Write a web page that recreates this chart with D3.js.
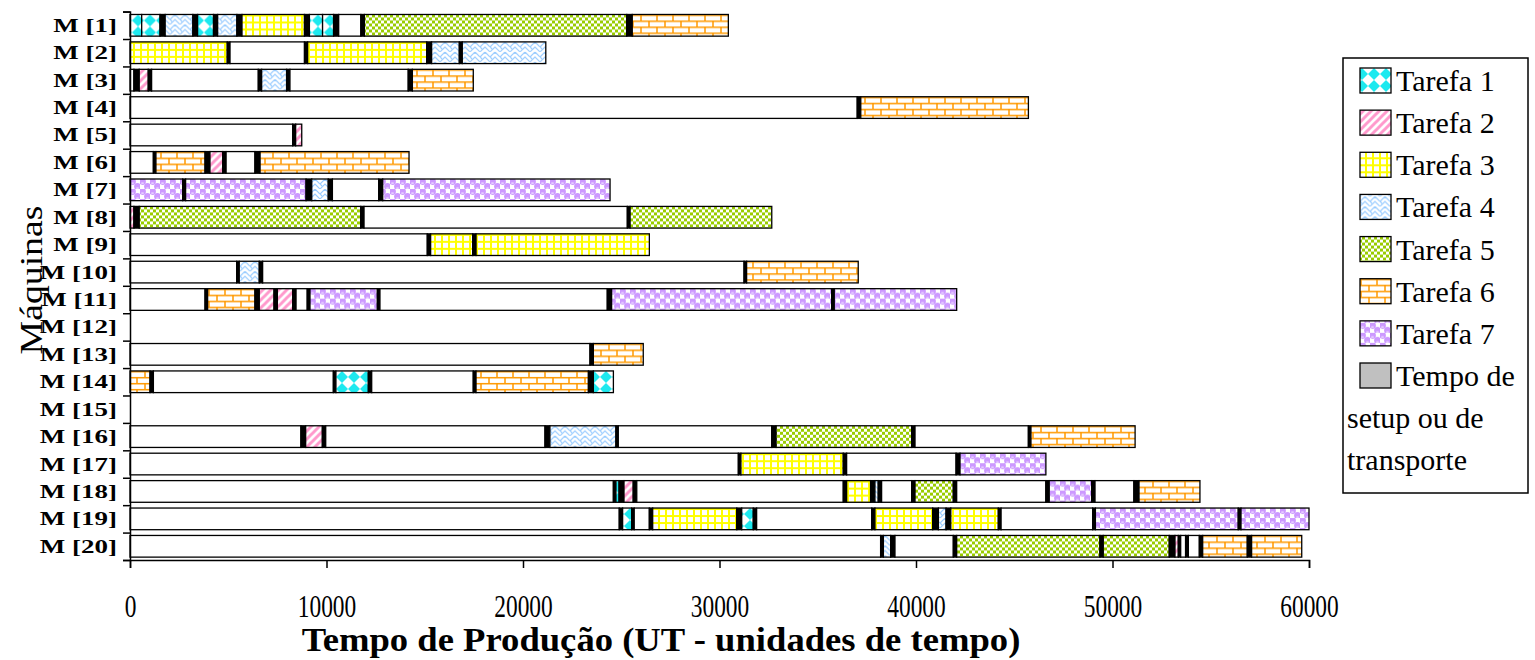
<!DOCTYPE html>
<html>
<head>
<meta charset="utf-8">
<script src="https://cdn.jsdelivr.net/npm/d3@7"></script>
<style>
  body { margin: 0; background: #fff; }
  svg { display: block; font-family: "Liberation Serif", "Times New Roman", serif; }
</style>
</head>
<body>
<svg id="gantt" width="1535" height="660"></svg>
<script>
// machines, tasks and ticks
var machines = d3.range(1, 21).map(function(i) { return "M [" + i + "]"; });
var taskNames = ["Tarefa 1", "Tarefa 2", "Tarefa 3", "Tarefa 4", "Tarefa 5", "Tarefa 6", "Tarefa 7"];
var xTicks = [0, 10000, 20000, 30000, 40000, 50000, 60000];

// each machine: [kind, end time]; segment starts where the previous one ended
// L = livre (idle), S = setup/transporte, T1..T7 = tarefas
var m1 = [["T1",595],["T1",1530],["S",1790],["T4",3200],["S",3440],["T1",4250],["S",4460],["T4",5440],["S",5700],["T3",8880],["S",9130],["T1",9800],["T1",10360],["S",10620],["L",11750],["S",11930],["T5",25280],["S",25560],["T6",30450]];
var m2 = [["T3",4950],["S",5090],["L",8880],["S",9040],["T3",15100],["S",15350],["T4",16760],["S",16910],["T4",21160]];
var m3 = [["L",200],["S",470],["T2",930],["S",1100],["L",6530],["S",6700],["T4",7970],["S",8140],["L",14160],["S",14370],["T6",17470]];
var m4 = [["L",37010],["S",37190],["T6",45720]];
var m5 = [["L",8280],["S",8430],["T2",8740]];
var m6 = [["L",1190],["S",1320],["T6",3820],["S",4070],["T2",4720],["S",4890],["L",6360],["S",6620],["T6",14200]];
var m7 = [["T7",2680],["S",2830],["T7",8960],["S",9250],["T4",10090],["S",10300],["L",12660],["S",12860],["T7",24430]];
var m8 = [["T2",200],["S",470],["T5",11740],["S",11910],["L",25310],["S",25450],["T5",32660]];
var m9 = [["L",15130],["S",15300],["T3",17440],["S",17610],["T3",26430]];
var m10 = [["L",5430],["S",5560],["T4",6580],["S",6750],["L",31250],["S",31380],["T6",37060]];
var m11 = [["L",3820],["S",3950],["T6",6360],["S",6580],["T2",7330],["S",7500],["T2",8280],["S",8450],["L",9020],["S",9160],["T7",12590],["S",12720],["L",24290],["S",24510],["T7",35710],["S",35840],["T7",42070]];
var m12 = [];
var m13 = [["L",23410],["S",23580],["T6",26120]];
var m14 = [["T6",1020],["S",1190],["L",10350],["S",10480],["T1",12130],["S",12300],["L",17470],["S",17610],["T6",23330],["S",23580],["T1",24600]];
var m15 = [];
var m16 = [["L",8700],["S",8940],["T2",9790],["S",9960],["L",21120],["S",21370],["T4",24730],["S",24850],["L",32660],["S",32880],["T5",39780],["S",39950],["L",45720],["S",45850],["T6",51150]];
var m17 = [["L",30960],["S",31090],["T3",36300],["S",36470],["L",42040],["S",42240],["T7",46610]];
var m18 = [["L",24600],["S",24730],["T1",24890],["S",25140],["T2",25610],["S",25790],["L",36300],["S",36470],["T3",37690],["S",37910],["T4",38080],["S",38250],["L",39780],["S",39950],["T5",41900],["S",42070],["L",46610],["S",46780],["T7",48940],["S",49110],["L",51090],["S",51350],["T6",54450]];
var m19 = [["L",24900],["S",25070],["T1",25530],["S",25660],["L",26430],["S",26600],["T3",30880],["S",31130],["T1",31720],["S",31890],["L",37750],["S",37910],["T3",40850],["S",41140],["T4",41530],["S",41770],["T3",44190],["S",44330],["L",48990],["S",49130],["T7",56400],["S",56540],["T7",60000]];
var m20 = [["L",38200],["S",38340],["T4",38710],["S",38930],["L",41900],["S",42070],["T5",49360],["S",49530],["T5",52890],["S",53180],["T2",53350],["S",53470],["L",53720],["S",53860],["L",54420],["S",54590],["T6",56860],["S",57080],["T6",59630]];

var schedule = [m1, m2, m3, m4, m5, m6, m7, m8, m9, m10, m11, m12, m13, m14, m15, m16, m17, m18, m19, m20];

var svg = d3.select("#gantt");
var defs = svg.append("defs");

// fill patterns, roughly like the Excel ones
function pat(id, w, h) {
    return defs.append("pattern").attr("id", id)
        .attr("patternUnits", "userSpaceOnUse").attr("width", w).attr("height", h);
}

var p1 = pat("T1", 12, 12);
p1.append("rect").attr("width", 12).attr("height", 12).attr("fill", "#fff");
p1.append("path").attr("d", "M6,0L12,6L6,12L0,6Z").attr("fill", "#1de9ef");

var p2 = pat("T2", 8, 8);
p2.append("rect").attr("width", 8).attr("height", 8).attr("fill", "#fff");
p2.append("path").attr("d", "M-2,10L10,-2M-6,6L6,-6M2,14L14,2").attr("stroke", "#ff99cc").attr("stroke-width", 3);

var p3 = pat("T3", 7, 7);
p3.append("rect").attr("width", 7).attr("height", 7).attr("fill", "#ffff00");
p3.append("rect").attr("x", 2).attr("y", 2).attr("width", 5).attr("height", 5).attr("fill", "#fff");

var p4 = pat("T4", 10, 10);
p4.append("rect").attr("width", 10).attr("height", 10).attr("fill", "#fff");
p4.append("path").attr("d", "M0,5L5,0L10,5M0,10L5,5L10,10M5,0L5,2M0,5L2,7")
    .attr("stroke", "#99ccff").attr("stroke-width", 1.2).attr("fill", "none");

var p5 = pat("T5", 6, 6);
p5.append("rect").attr("width", 6).attr("height", 6).attr("fill", "#fff");
p5.append("rect").attr("width", 3).attr("height", 3).attr("fill", "#99cc00");
p5.append("rect").attr("x", 3).attr("y", 3).attr("width", 3).attr("height", 3).attr("fill", "#99cc00");

var p6 = pat("T6", 16, 12);
p6.append("rect").attr("width", 16).attr("height", 12).attr("fill", "#fff");
p6.append("path").attr("d", "M0,0.75H16M0,6.75H16M1,0V6.75M9,6.75V12")
    .attr("stroke", "#ff9900").attr("stroke-width", 1.5);

var p7 = pat("T7", 10, 10);
p7.append("rect").attr("width", 10).attr("height", 10).attr("fill", "#fff");
[[2.5, 2.5], [7.5, 7.5]].forEach(function(c) {
    p7.append("circle").attr("cx", c[0]).attr("cy", c[1]).attr("r", 3.4).attr("fill", "#cc99ff");
    p7.append("path").attr("d", "M" + (c[0] - 1.2) + "," + (c[1] + 1.6) + "h2.4")
        .attr("stroke", "#fff").attr("stroke-width", 0.9);
});

function fillFor(k) {
    if (k === "L") return "#fff";
    if (k === "S") return "#000";
    return "url(#" + k + ")";
}

var x = d3.scaleLinear().domain([0, 60000]).range([130, 1309]);
var y = d3.scaleBand().domain(machines).range([11.6, 560]).paddingInner(0.21).paddingOuter(0.105);
var yEdge = d3.scaleLinear().domain([0, 20]).range([11.6, 560]);

// bars
var rows = svg.append("g").selectAll("g")
    .data(schedule)
    .enter().append("g")
    .attr("transform", function(d, i) { return "translate(0," + y(machines[i]) + ")"; });

rows.selectAll("rect")
    .data(function(d) {
        var t = 0;
        return d.map(function(s) { var seg = {k: s[0], a: t, b: s[1]}; t = s[1]; return seg; });
    })
    .enter().append("rect")
    .attr("x", function(d) { return x(d.a); })
    .attr("width", function(d) { return x(d.b) - x(d.a); })
    .attr("height", y.bandwidth())
    .attr("fill", function(d) { return fillFor(d.k); })
    .attr("stroke", "#000")
    .attr("stroke-width", 1.3);

// y axis: ticks between machines, labels in the middle
svg.append("g")
    .attr("transform", "translate(130,0)")
    .call(d3.axisLeft(yEdge).ticks(20).tickSize(7).tickFormat(""))
    .call(function(g) { g.selectAll("path,line").attr("stroke", "#000").attr("stroke-width", 1.5); });

svg.append("g").selectAll("text")
    .data(machines)
    .enter().append("text")
    .attr("transform", function(d) { return "translate(117," + (y(d) + y.bandwidth() / 2 + 6.5) + ") scale(1.42,1)"; })
    .attr("text-anchor", "end")
    .style("font-size", "19px")
    .style("font-weight", "bold")
    .text(function(d) { return d; });

// x axis
var xAxis = svg.append("g")
    .attr("transform", "translate(0,560)")
    .call(d3.axisBottom(x).tickValues(xTicks).tickSize(8).tickFormat(d3.format("d")));
xAxis.selectAll("path,line").attr("stroke", "#000").attr("stroke-width", 1.5);
xAxis.selectAll(".tick text")
    .attr("y", 0).attr("dy", 0)
    .attr("transform", "translate(0,57) scale(0.78,1.05)")
    .style("font-size", "30px")
    .style("font-family", "Liberation Serif")
    .attr("fill", "#000");

svg.append("text")
    .attr("transform", "translate(661,651) scale(1.11,1)")
    .attr("text-anchor", "middle")
    .style("font-size", "33px")
    .style("font-weight", "bold")
    .text("Tempo de Produção (UT - unidades de tempo)");

svg.append("text")
    .attr("transform", "translate(42,280) rotate(-90) scale(1.18,1)")
    .attr("text-anchor", "middle")
    .style("font-size", "32px")
    .text("Máquinas");

// legend
var legend = svg.append("g");
legend.append("rect")
    .attr("x", 1343).attr("y", 58).attr("width", 185).attr("height", 435)
    .attr("fill", "#fff").attr("stroke", "#000").attr("stroke-width", 1.5);

var legendKeys = ["T1", "T2", "T3", "T4", "T5", "T6", "T7", "S"];
var ly = d3.scaleLinear().domain([0, 7]).range([80, 375]);

var item = legend.selectAll(".item")
    .data(legendKeys)
    .enter().append("g")
    .attr("class", "item")
    .attr("transform", function(d, i) { return "translate(0," + ly(i) + ")"; });

item.append("rect")
    .attr("x", 1360).attr("y", -12).attr("width", 31).attr("height", 25)
    .attr("fill", function(d) { return d === "S" ? "#c0c0c0" : fillFor(d); })
    .attr("stroke", "#000").attr("stroke-width", 1.3);

item.append("text")
    .attr("x", 1396).attr("y", 11)
    .style("font-size", "30px")
    .text(function(d, i) { return d === "S" ? "Tempo de" : taskNames[i]; });

legend.selectAll(".more")
    .data(["setup ou de", "transporte"])
    .enter().append("text")
    .attr("x", 1347)
    .attr("y", function(d, i) { return ly(8 + i) + 11; })
    .style("font-size", "30px")
    .text(function(d) { return d; });
</script>
</body>
</html>
